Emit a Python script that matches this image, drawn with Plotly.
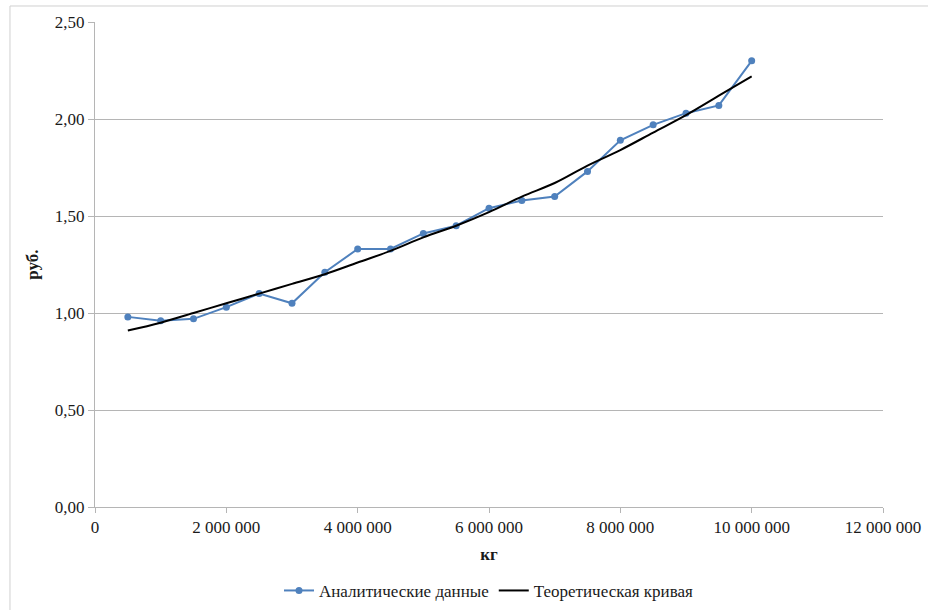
import plotly.graph_objects as go

# Volume, kg
volume_kg = [500000, 1000000, 1500000, 2000000, 2500000, 3000000, 3500000,
             4000000, 4500000, 5000000, 5500000, 6000000, 6500000, 7000000,
             7500000, 8000000, 8500000, 9000000, 9500000, 10000000]

# Analytical cost, rub.
analytic_rub = [0.98, 0.96, 0.97, 1.03, 1.10, 1.05, 1.21, 1.33, 1.33, 1.41,
                1.45, 1.54, 1.58, 1.60, 1.73, 1.89, 1.97, 2.03, 2.07, 2.30]

# Theoretical curve, rub.
theory_rub = [0.91, 0.95, 1.00, 1.05, 1.10, 1.15, 1.20, 1.26, 1.32, 1.39,
              1.45, 1.52, 1.60, 1.67, 1.76, 1.84, 1.93, 2.02, 2.12, 2.22]

series_names = ["Аналитические данные", "Теоретическая кривая"]

FONT = "Times New Roman, Liberation Serif, DejaVu Serif, serif"
GRID = "#b5b5b5"
TEXT = "#1a1a1a"

fig = go.Figure()
fig.add_trace(go.Scatter(
    x=volume_kg, y=analytic_rub, name=series_names[0],
    mode="lines+markers",
    line=dict(color="#4F81BD", width=2),
    marker=dict(color="#4F81BD", size=7),
))
fig.add_trace(go.Scatter(
    x=volume_kg, y=theory_rub, name=series_names[1],
    mode="lines", line=dict(color="#000000", width=2, shape="spline"),
))

fig.update_layout(
    width=928, height=610,
    margin=dict(l=95, r=45, t=22, b=103, autoexpand=False),
    paper_bgcolor="white", plot_bgcolor="white",
    separators=", ",
    font=dict(family=FONT, size=17, color=TEXT),
    showlegend=True,
    legend=dict(orientation="h", x=0.5, xanchor="center", y=-0.173,
                yanchor="middle", font=dict(family=FONT, size=17, color=TEXT),
                traceorder="normal"),
    xaxis=dict(
        range=[0, 12000000], dtick=2000000, tick0=0, automargin=False,
        tickformat=",d", showgrid=False, zeroline=False,
        showline=True, linecolor=GRID, linewidth=1,
        ticks="outside", ticklen=5, tickcolor=GRID,
        tickfont=dict(family=FONT, size=17, color=TEXT),
        title=dict(text="<b>кг</b>", standoff=11,
                   font=dict(family=FONT, size=17, color=TEXT)),
    ),
    yaxis=dict(
        range=[0, 2.5], dtick=0.5, tick0=0, automargin=False,
        tickformat=".2f", showgrid=True, gridcolor=GRID, gridwidth=1,
        zeroline=False, showline=True, linecolor=GRID, linewidth=1,
        ticks="outside", ticklen=6, tickcolor=GRID,
        tickfont=dict(family=FONT, size=17, color=TEXT),
        title=dict(text="<b>руб.</b>", standoff=11,
                   font=dict(family=FONT, size=17, color=TEXT)),
    ),
    shapes=[dict(type="rect", xref="paper", yref="paper",
                 x0=-0.1079, y0=-0.25, x1=1.08, y1=1.033,
                 line=dict(color="#d0d0d0", width=1), layer="below")],
)

fig.write_html("out.html")
